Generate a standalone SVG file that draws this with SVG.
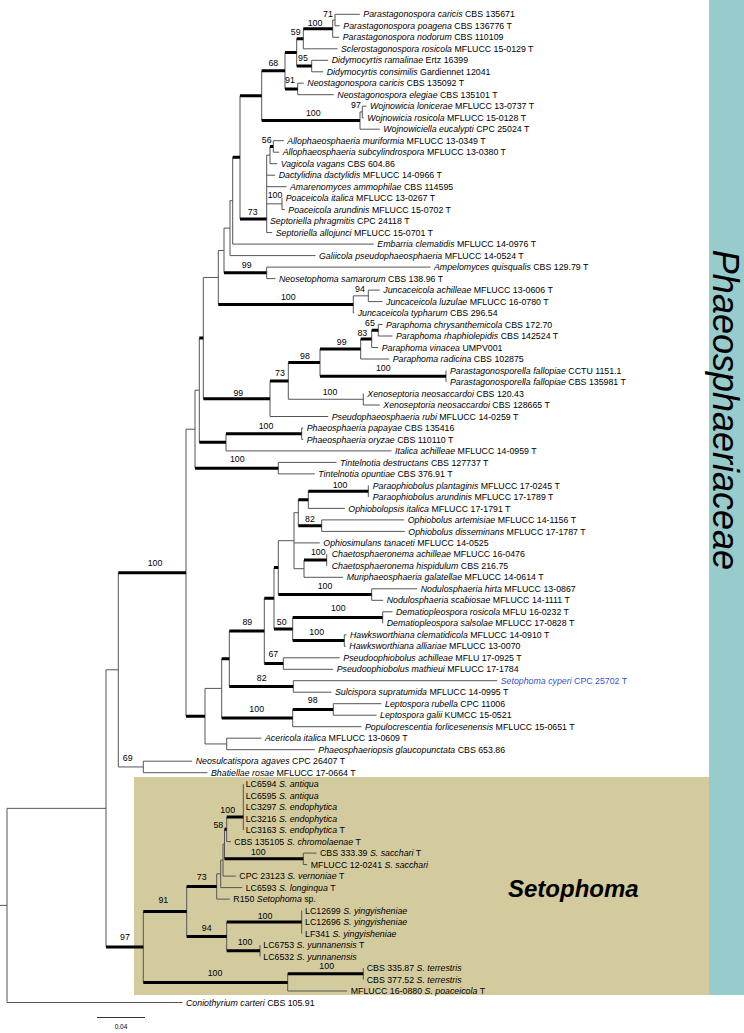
<svg xmlns="http://www.w3.org/2000/svg" width="744" height="1033" viewBox="0 0 744 1033">
<style>
.t{font-family:"Liberation Sans",Arial,sans-serif;font-size:8.8px;fill:#000}
.i{font-style:italic}
.s{font-family:"Liberation Sans",Arial,sans-serif;font-size:8.8px;text-anchor:middle;fill:#000}
.thin{fill:none;stroke:#555;stroke-width:1}
.thick{fill:none;stroke:#000;stroke-width:3}
</style>
<rect x="0" y="0" width="744" height="1033" fill="#fff"/>
<rect id="band-phaeo" x="709" y="0" width="35" height="995" fill="#98CCCC"/>
<rect id="box-setophoma" x="134" y="777" width="575" height="218" fill="#D3CB9D"/>
<g id="connectors">
<path class="thin" d="M335 14.3V25.8M332.7 20.05V37.3M303.3 28.7V48.8M311.7 60.3V71.8M296.7 38.75V66.05M297.7 83.2V94.7M285 52.4V88.95M362.3 106.2V117.7M360 111.95V129.2M261.7 70.7V120.6M273.3 140.7V152.2M270 146.45V163.7M266.7 155.1V232.6M282 198.1V209.6M240 95.65V219M232.7 157.3V244.1M230 200.7V255.6M266.7 267.1V278.6M224 228.15V272.85M368.3 290.1V301.6M353.3 295.85V313M218.3 250.5V304.4M378.3 324.5V336M371.7 330.25V347.5M360.7 338.9V359M446 370.5V382M320 348.95V376.25M363.3 393.5V405M288.3 362.6V399.25M270 380.9V416.5M203.3 277.45V398.7M301.7 428V439.4M226 433.7V450.9M199.3 338.1V442.3M278.3 462.4V473.9M195 390.2V468.15M368.3 485.4V496.9M308.3 491.15V508.4M321.7 519.9V531.4M298.3 499.8V525.65M326.7 554.3V565.8M304 560.05V577.3M294 512.7V568.7M371.7 588.8V600.3M278.3 540.7V594.55M382.7 611.8V623.3M344.3 634.8V646.3M292.7 617.55V640.55M274 567.6V629.05M283.3 657.8V669.3M264.3 598.3V663.55M293.3 680.7V692.2M229.3 630.9V686.45M333.3 703.7V715.2M292.7 709.45V726.7M221.7 658.7V718.1M226.7 738.2V749.7M205 688.4V743.95M186 429.2V716.2M143.3 761.2V772.7M118.3 572.7V766.95M243.3 784.2V830.1M226.7 817V841.6M303.3 853.1V864.6M224.5 829.3V858.85M223 844.1V876.1M220.7 860.1V887.6M216.7 873.85V899.1M301.7 910.6V933.6M260 945V956.5M226.7 922.1V950.75M186.7 886.5V936.4M363.3 968V979.5M287.7 973.75V991M143.3 911.45V982.4M106 669.8V946.9M7 808.35V1002.5M0 905.4H7
M332.7 20.05H335M360 111.95H362.3M203.3 277.45H218.3M218.3 250.5H224M224 228.15H230M230 200.7H232.7M266.7 155.1H270M266.7 203.85H282M353.3 295.85H368.3M288.3 399.25H363.3M195 390.2H199.3M186 429.2H195M278.3 540.7H294M294 512.7H298.3M294 568.7H304M205 688.4H221.7M205 743.95H226.7M118.3 766.95H143.3M106 669.8H118.3M7 808.35H106M223 844.1H224.5M220.7 860.1H223M216.7 873.85H220.7
M335 14.3H359.8M335 25.8H339.8M332.7 37.3H339.2M303.3 48.8H337.5M311.7 60.3H328.2M311.7 71.8H323.2M297.7 83.2H303.8M297.7 94.7H333.8M362.3 106.2H366.5M362.3 117.7H363.8M360 129.2H379.8M273.3 140.7H283.8M273.3 152.2H279.2M270 163.7H277.2M266.7 175.2H275.2M266.7 186.7H286.5M282 209.6H284.8M266.7 232.6H272.2M232.7 244.1H373.8M230 255.6H315.5M266.7 267.1H430.5M266.7 278.6H275.5M368.3 290.1H379.8M368.3 301.6H382.5M353.3 313H354.2M378.3 324.5H382.5M378.3 336H392.5M371.7 347.5H378.2M360.7 359H389.2M363.3 405H379.8M270 416.5H328.2M301.7 428H303.2M301.7 439.4H303.2M226 450.9H391.5M278.3 462.4H336.5M278.3 473.9H314.8M308.3 508.4H344.8M321.7 519.9H404.2M321.7 531.4H404.8M294 542.9H319.8M304 577.3H343.2M371.7 588.8H417.2M371.7 600.3H383.2M382.7 611.8H392.5M344.3 634.8H346.5M344.3 646.3H345.8M283.3 657.8H339.8M283.3 669.3H333.2M293.3 680.7H497.2M293.3 692.2H331.5M333.3 703.7H381.5M333.3 715.2H376.5M292.7 726.7H361.5M226.7 738.2H261.5M226.7 749.7H314.8M143.3 761.2H192.2M143.3 772.7H207.5M226.7 841.6H230.8M303.3 853.1H316.5M303.3 864.6H307.2M223 876.1H235.8M220.7 887.6H242.2M216.7 899.1H229.8M287.7 991H347.2M7 1002.5H182.5"/>
<path class="thick" d="M303.3 28.7H332.7M296.7 38.75H303.3M296.7 66.05H311.7M285 52.4H296.7M285 88.95H297.7M261.7 70.7H285M240 95.65H261.7M261.7 120.6H360M232.7 157.3H240M240 219H266.7M270 146.45H273.3M224 272.85H266.7M218.3 304.4H353.3M199.3 338.1H203.3M203.3 398.7H270M270 380.9H288.3M288.3 362.6H320M320 348.95H360.7M360.7 338.9H371.7M371.7 330.25H378.3M320 376.25H446M199.3 442.3H226M226 433.7H301.7M195 468.15H278.3M298.3 499.8H308.3M308.3 491.15H368.3M298.3 525.65H321.7M304 560.05H326.7M278.3 594.55H371.7M274 567.6H278.3M264.3 598.3H274M274 629.05H292.7M292.7 617.55H382.7M292.7 640.55H344.3M264.3 663.55H283.3M229.3 630.9H264.3M221.7 658.7H229.3M229.3 686.45H293.3M221.7 718.1H292.7M292.7 709.45H333.3M186 716.2H205M118.3 572.7H186M106 946.9H143.3M143.3 911.45H186.7M143.3 982.4H287.7M287.7 973.75H363.3M186.7 886.5H216.7M186.7 936.4H226.7M226.7 922.1H301.7M226.7 950.75H260M224.5 858.85H303.3M224.5 829.3H226.7M226.7 817H243.3"/>
</g>
<g id="taxa">
<g id="t01"><text class="t" x="363.3" y="17.4"><tspan class="i">Parastagonospora caricis</tspan> CBS 135671</text></g>
<g id="t02"><text class="t" x="343.3" y="28.9"><tspan class="i">Parastagonospora poagena</tspan> CBS 136776 T</text></g>
<g id="t03"><text class="t" x="342.7" y="40.4"><tspan class="i">Parastagonospora nodorum</tspan> CBS 110109</text></g>
<g id="t04"><text class="t" x="341" y="51.9"><tspan class="i">Sclerostagonospora rosicola</tspan> MFLUCC 15-0129 T</text></g>
<g id="t05"><text class="t" x="331.7" y="63.4"><tspan class="i">Didymocyrtis ramalinae</tspan> Ertz 16399</text></g>
<g id="t06"><text class="t" x="326.7" y="74.9"><tspan class="i">Didymocyrtis consimilis</tspan> Gardiennet 12041</text></g>
<g id="t07"><text class="t" x="307.3" y="86.3"><tspan class="i">Neostagonospora caricis</tspan> CBS 135092 T</text></g>
<g id="t08"><text class="t" x="337.3" y="97.8"><tspan class="i">Neostagonospora elegiae</tspan> CBS 135101 T</text></g>
<g id="t09"><text class="t" x="370" y="109.3"><tspan class="i">Wojnowicia lonicerae</tspan> MFLUCC 13-0737 T</text></g>
<g id="t10"><text class="t" x="367.3" y="120.8"><tspan class="i">Wojnowicia rosicola</tspan> MFLUCC 15-0128 T</text></g>
<g id="t11"><text class="t" x="383.3" y="132.3"><tspan class="i">Wojnowiciella eucalypti</tspan> CPC 25024 T</text></g>
<g id="t12"><text class="t" x="287.3" y="143.8"><tspan class="i">Allophaeosphaeria muriformia</tspan> MFLUCC 13-0349 T</text></g>
<g id="t13"><text class="t" x="282.7" y="155.3"><tspan class="i">Allophaeosphaeria subcylindrospora</tspan> MFLUCC 13-0380 T</text></g>
<g id="t14"><text class="t" x="280.7" y="166.8"><tspan class="i">Vagicola vagans</tspan> CBS 604.86</text></g>
<g id="t15"><text class="t" x="278.7" y="178.3"><tspan class="i">Dactylidina dactylidis</tspan> MFLUCC 14-0966 T</text></g>
<g id="t16"><text class="t" x="290" y="189.8"><tspan class="i">Amarenomyces ammophilae</tspan> CBS 114595</text></g>
<g id="t17"><text class="t" x="285.7" y="201.2"><tspan class="i">Poaceicola italica</tspan> MFLUCC 13-0267 T</text></g>
<g id="t18"><text class="t" x="288.3" y="212.7"><tspan class="i">Poaceicola arundinis</tspan> MFLUCC 15-0702 T</text></g>
<g id="t19"><text class="t" x="270" y="224.2"><tspan class="i">Septoriella phragmitis</tspan> CPC 24118 T</text></g>
<g id="t20"><text class="t" x="275.7" y="235.7"><tspan class="i">Septoriella allojunci</tspan> MFLUCC 15-0701 T</text></g>
<g id="t21"><text class="t" x="377.3" y="247.2"><tspan class="i">Embarria clematidis</tspan> MFLUCC 14-0976 T</text></g>
<g id="t22"><text class="t" x="319" y="258.7"><tspan class="i">Galiicola pseudophaeosphaeria</tspan> MFLUCC 14-0524 T</text></g>
<g id="t23"><text class="t" x="434" y="270.2"><tspan class="i">Ampelomyces quisqualis</tspan> CBS 129.79 T</text></g>
<g id="t24"><text class="t" x="279" y="281.7"><tspan class="i">Neosetophoma samarorum</tspan> CBS 138.96 T</text></g>
<g id="t25"><text class="t" x="383.3" y="293.2"><tspan class="i">Juncaceicola achilleae</tspan> MFLUCC 13-0606 T</text></g>
<g id="t26"><text class="t" x="386" y="304.7"><tspan class="i">Juncaceicola luzulae</tspan> MFLUCC 16-0780 T</text></g>
<g id="t27"><text class="t" x="357.7" y="316.1"><tspan class="i">Juncaceicola typharum</tspan> CBS 296.54</text></g>
<g id="t28"><text class="t" x="386" y="327.6"><tspan class="i">Paraphoma chrysanthemicola</tspan> CBS 172.70</text></g>
<g id="t29"><text class="t" x="396" y="339.1"><tspan class="i">Paraphoma rhaphiolepidis</tspan> CBS 142524 T</text></g>
<g id="t30"><text class="t" x="381.7" y="350.6"><tspan class="i">Paraphoma vinacea</tspan> UMPV001</text></g>
<g id="t31"><text class="t" x="392.7" y="362.1"><tspan class="i">Paraphoma radicina</tspan> CBS 102875</text></g>
<g id="t32"><text class="t" x="450" y="373.6"><tspan class="i">Parastagonosporella fallopiae</tspan> CCTU 1151.1</text></g>
<g id="t33"><text class="t" x="450" y="385.1"><tspan class="i">Parastagonosporella fallopiae</tspan> CBS 135981 T</text></g>
<g id="t34"><text class="t" x="367.3" y="396.6"><tspan class="i">Xenoseptoria neosaccardoi</tspan> CBS 120.43</text></g>
<g id="t35"><text class="t" x="383.3" y="408.1"><tspan class="i">Xenoseptoria neosaccardoi</tspan> CBS 128665 T</text></g>
<g id="t36"><text class="t" x="331.7" y="419.6"><tspan class="i">Pseudophaeosphaeria rubi</tspan> MFLUCC 14-0259 T</text></g>
<g id="t37"><text class="t" x="306.7" y="431.1"><tspan class="i">Phaeosphaeria papayae</tspan> CBS 135416</text></g>
<g id="t38"><text class="t" x="306.7" y="442.5"><tspan class="i">Phaeosphaeria oryzae</tspan> CBS 110110 T</text></g>
<g id="t39"><text class="t" x="395" y="454"><tspan class="i">Italica achilleae</tspan> MFLUCC 14-0959 T</text></g>
<g id="t40"><text class="t" x="340" y="465.5"><tspan class="i">Tintelnotia destructans</tspan> CBS 127737 T</text></g>
<g id="t41"><text class="t" x="318.3" y="477"><tspan class="i">Tintelnotia opuntiae</tspan> CBS 376.91 T</text></g>
<g id="t42"><text class="t" x="372.7" y="488.5"><tspan class="i">Paraophiobolus plantaginis</tspan> MFLUCC 17-0245 T</text></g>
<g id="t43"><text class="t" x="372.7" y="500"><tspan class="i">Paraophiobolus arundinis</tspan> MFLUCC 17-1789 T</text></g>
<g id="t44"><text class="t" x="348.3" y="511.5"><tspan class="i">Ophiobolopsis italica</tspan> MFLUCC 17-1791 T</text></g>
<g id="t45"><text class="t" x="407.7" y="523"><tspan class="i">Ophiobolus artemisiae</tspan> MFLUCC 14-1156 T</text></g>
<g id="t46"><text class="t" x="408.3" y="534.5"><tspan class="i">Ophiobolus disseminans</tspan> MFLUCC 17-1787 T</text></g>
<g id="t47"><text class="t" x="323.3" y="546"><tspan class="i">Ophiosimulans tanaceti</tspan> MFLUCC 14-0525</text></g>
<g id="t48"><text class="t" x="331.7" y="557.4"><tspan class="i">Chaetosphaeronema achilleae</tspan> MFLUCC 16-0476</text></g>
<g id="t49"><text class="t" x="331.7" y="568.9"><tspan class="i">Chaetosphaeronema hispidulum</tspan> CBS 216.75</text></g>
<g id="t50"><text class="t" x="346.7" y="580.4"><tspan class="i">Muriphaeosphaeria galatellae</tspan> MFLUCC 14-0614 T</text></g>
<g id="t51"><text class="t" x="420.7" y="591.9"><tspan class="i">Nodulosphaeria hirta</tspan> MFLUCC 13-0867</text></g>
<g id="t52"><text class="t" x="386.7" y="603.4"><tspan class="i">Nodulosphaeria scabiosae</tspan> MFLUCC 14-1111 T</text></g>
<g id="t53"><text class="t" x="396" y="614.9"><tspan class="i">Dematiopleospora rosicola</tspan> MFLU 16-0232 T</text></g>
<g id="t54"><text class="t" x="386.7" y="626.4"><tspan class="i">Dematiopleospora salsolae</tspan> MFLUCC 17-0828 T</text></g>
<g id="t55"><text class="t" x="350" y="637.9"><tspan class="i">Hawksworthiana clematidicola</tspan> MFLUCC 14-0910 T</text></g>
<g id="t56"><text class="t" x="349.3" y="649.4"><tspan class="i">Hawksworthiana alliariae</tspan> MFLUCC 13-0070</text></g>
<g id="t57"><text class="t" x="343.3" y="660.9"><tspan class="i">Pseudoophiobolus achilleae</tspan> MFLU 17-0925 T</text></g>
<g id="t58"><text class="t" x="336.7" y="672.4"><tspan class="i">Pseudoophiobolus mathieui</tspan> MFLUCC 17-1784</text></g>
<g id="t59"><text class="t" x="500.7" y="683.8" style="fill:#3355CC"><tspan class="i">Setophoma cyperi</tspan> CPC 25702 T</text></g>
<g id="t60"><text class="t" x="335" y="695.3"><tspan class="i">Sulcispora supratumida</tspan> MFLUCC 14-0995 T</text></g>
<g id="t61"><text class="t" x="385" y="706.8"><tspan class="i">Leptospora rubella</tspan> CPC 11006</text></g>
<g id="t62"><text class="t" x="380" y="718.3"><tspan class="i">Leptospora galii</tspan> KUMCC 15-0521</text></g>
<g id="t63"><text class="t" x="365" y="729.8"><tspan class="i">Populocrescentia forlicesenensis</tspan> MFLUCC 15-0651 T</text></g>
<g id="t64"><text class="t" x="265" y="741.3"><tspan class="i">Acericola italica</tspan> MFLUCC 13-0609 T</text></g>
<g id="t65"><text class="t" x="318.3" y="752.8"><tspan class="i">Phaeosphaeriopsis glaucopunctata</tspan> CBS 653.86</text></g>
<g id="t66"><text class="t" x="195.7" y="764.3"><tspan class="i">Neosulcatispora agaves</tspan> CPC 26407 T</text></g>
<g id="t67"><text class="t" x="211" y="775.8"><tspan class="i">Bhatiellae rosae</tspan> MFLUCC 17-0664 T</text></g>
<g id="t68"><text class="t" x="245.7" y="787.3">LC6594 <tspan class="i">S. antiqua</tspan></text></g>
<g id="t69"><text class="t" x="245.7" y="798.8">LC6595 <tspan class="i">S. antiqua</tspan></text></g>
<g id="t70"><text class="t" x="245.7" y="810.3">LC3297 <tspan class="i">S. endophytica</tspan></text></g>
<g id="t71"><text class="t" x="245.7" y="821.7">LC3216 <tspan class="i">S. endophytica</tspan></text></g>
<g id="t72"><text class="t" x="245.7" y="833.2">LC3163 <tspan class="i">S. endophytica</tspan> T</text></g>
<g id="t73"><text class="t" x="234.3" y="844.7">CBS 135105 <tspan class="i">S. chromolaenae</tspan> T</text></g>
<g id="t74"><text class="t" x="320" y="856.2">CBS 333.39 <tspan class="i">S. sacchari</tspan> T</text></g>
<g id="t75"><text class="t" x="310.7" y="867.7">MFLUCC 12-0241 <tspan class="i">S. sacchari</tspan></text></g>
<g id="t76"><text class="t" x="239.3" y="879.2">CPC 23123 <tspan class="i">S. vernoniae</tspan> T</text></g>
<g id="t77"><text class="t" x="245.7" y="890.7">LC6593 <tspan class="i">S. longinqua</tspan> T</text></g>
<g id="t78"><text class="t" x="233.3" y="902.2">R150 <tspan class="i">Setophoma</tspan> sp.</text></g>
<g id="t79"><text class="t" x="305" y="913.7">LC12699 <tspan class="i">S. yingyisheniae</tspan></text></g>
<g id="t80"><text class="t" x="305" y="925.2">LC12696 <tspan class="i">S. yingyisheniae</tspan></text></g>
<g id="t81"><text class="t" x="305" y="936.7">LF341 <tspan class="i">S. yingyisheniae</tspan></text></g>
<g id="t82"><text class="t" x="263.3" y="948.1">LC6753 <tspan class="i">S. yunnanensis</tspan> T</text></g>
<g id="t83"><text class="t" x="263.3" y="959.6">LC6532 <tspan class="i">S. yunnanensis</tspan></text></g>
<g id="t84"><text class="t" x="366.7" y="971.1">CBS 335.87 <tspan class="i">S. terrestris</tspan></text></g>
<g id="t85"><text class="t" x="366.7" y="982.6">CBS 377.52 <tspan class="i">S. terrestris</tspan></text></g>
<g id="t86"><text class="t" x="350.7" y="994.1">MFLUCC 16-0880 <tspan class="i">S. poaceicola</tspan> T</text></g>
<g id="t87"><text class="t" x="186" y="1005.6"><tspan class="i">Coniothyrium carteri</tspan> CBS 105.91</text></g>
</g>
<g id="support">
<text class="s" x="328" y="17.4">71</text>
<text class="s" x="315" y="25.8">100</text>
<text class="s" x="295.7" y="34.8">59</text>
<text class="s" x="303" y="61.4">95</text>
<text class="s" x="273.3" y="66.4">68</text>
<text class="s" x="290" y="83.1">91</text>
<text class="s" x="356" y="108.1">97</text>
<text class="s" x="313.3" y="116.4">100</text>
<text class="s" x="266.7" y="143.1">56</text>
<text class="s" x="275" y="198.1">100</text>
<text class="s" x="252.7" y="214.8">73</text>
<text class="s" x="246.7" y="268.1">99</text>
<text class="s" x="360" y="292.1">94</text>
<text class="s" x="288.3" y="299.8">100</text>
<text class="s" x="370" y="326.4">65</text>
<text class="s" x="362.3" y="335.8">83</text>
<text class="s" x="341.7" y="344.8">99</text>
<text class="s" x="305" y="359.1">98</text>
<text class="s" x="383.3" y="371.4">100</text>
<text class="s" x="280" y="376.4">73</text>
<text class="s" x="238.3" y="395.8">99</text>
<text class="s" x="330" y="395.4">100</text>
<text class="s" x="266" y="428.8">100</text>
<text class="s" x="237.3" y="462.4">100</text>
<text class="s" x="340" y="488.1">100</text>
<text class="s" x="310" y="521.6">82</text>
<text class="s" x="318.3" y="554.8">100</text>
<text class="s" x="155" y="566.4">100</text>
<text class="s" x="325" y="588.8">100</text>
<text class="s" x="338.3" y="611.4">100</text>
<text class="s" x="247.3" y="624.8">89</text>
<text class="s" x="281.7" y="624.8">50</text>
<text class="s" x="316.7" y="634.8">100</text>
<text class="s" x="273.3" y="657.1">67</text>
<text class="s" x="261.7" y="680.8">82</text>
<text class="s" x="312.7" y="703.1">98</text>
<text class="s" x="256.7" y="712.1">100</text>
<text class="s" x="127.7" y="761.4">69</text>
<text class="s" x="227.7" y="813.1">100</text>
<text class="s" x="218.3" y="828.1">58</text>
<text class="s" x="258.3" y="854.8">100</text>
<text class="s" x="201.7" y="880.1">73</text>
<text class="s" x="163.3" y="903.1">91</text>
<text class="s" x="265" y="919.1">100</text>
<text class="s" x="206.7" y="931.4">94</text>
<text class="s" x="125" y="940.4">97</text>
<text class="s" x="245" y="944.8">100</text>
<text class="s" x="326.7" y="969.1">100</text>
<text class="s" x="215" y="976.1">100</text>
</g>
<g id="clade-labels">
<text x="713" y="410" transform="rotate(90 713 410)" text-anchor="middle" font-family="Liberation Sans, Arial, sans-serif" font-size="36" font-style="italic">Phaeosphaeriaceae</text>
<text x="508" y="897" font-family="Liberation Sans, Arial, sans-serif" font-size="24" font-weight="bold" font-style="italic">Setophoma</text>
</g>
<g id="scale">
<path d="M97 1017.5H145" stroke="#333" stroke-width="1"/>
<text x="121" y="1029" text-anchor="middle" font-family="Liberation Sans, Arial, sans-serif" font-size="6.5">0.04</text>
</g>
</svg>
